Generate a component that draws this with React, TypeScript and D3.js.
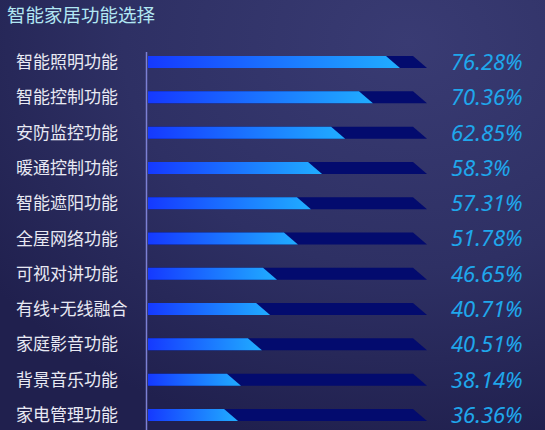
import React, { useEffect, useRef } from 'react';
import * as d3 from 'd3';

const title = '智能家居功能选择';
const categories = [
  '智能照明功能',
  '智能控制功能',
  '安防监控功能',
  '暖通控制功能',
  '智能遮阳功能',
  '全屋网络功能',
  '可视对讲功能',
  '有线+无线融合',
  '家庭影音功能',
  '背景音乐功能',
  '家电管理功能',
];
// label values shown at the right
const values = ['76.28%', '70.36%', '62.85%', '58.3%', '57.31%', '51.78%', '46.65%', '40.71%', '40.51%', '38.14%', '36.36%'];
// bar fill, percent of the track
const fills = [89.8, 79.6, 69.1, 60.4, 56.2, 51.3, 43.4, 40.8, 37.7, 29.8, 28.7];

const W = 545;
const H = 430;

export default function App() {
  const svgRef = useRef<SVGSVGElement>(null);

  useEffect(() => {
    document.body.style.margin = '0';
    if (!svgRef.current) return;
    const svg = d3.select(svgRef.current);
    svg.selectAll('*').remove();
    svg.attr('width', W).attr('height', H);

    const defs = svg.append('defs');
    const bg = defs
      .append('radialGradient')
      .attr('id', 'bg')
      .attr('cx', '75%')
      .attr('cy', '10%')
      .attr('r', '95%');
    bg.append('stop').attr('offset', '0%').attr('stop-color', '#393b73');
    bg.append('stop').attr('offset', '55%').attr('stop-color', '#2e3064');
    bg.append('stop').attr('offset', '100%').attr('stop-color', '#20204e');

    const barGrad = defs
      .append('linearGradient')
      .attr('id', 'barGrad')
      .attr('x1', '0%')
      .attr('x2', '100%')
      .attr('y1', '0%')
      .attr('y2', '0%');
    barGrad.append('stop').attr('offset', '0%').attr('stop-color', '#1539ff');
    barGrad.append('stop').attr('offset', '100%').attr('stop-color', '#20adff');

    svg.append('rect').attr('width', W).attr('height', H).attr('fill', 'url(#bg)');

    svg
      .append('text')
      .attr('x', 7)
      .attr('y', 22)
      .attr('fill', '#b2e7f3')
      .attr('font-family', '"Noto Sans CJK SC", "Noto Sans", sans-serif')
      .attr('font-size', 18.5)
      .text(title);

    const y = d3.scaleBand().domain(categories).range([44.4, 432.6]).padding(0);
    const x = d3.scaleLinear().domain([0, 100]).range([148, 413]);
    const barH = 12;
    const slant = 14;

    const data = categories.map((c, i) => ({ label: c, value: values[i], fill: fills[i] }));
    const cy = (d: { label: string }) => y(d.label)! + y.bandwidth() / 2;

    const shape = (end: number, top: number) => {
      const p = d3.path();
      p.moveTo(x(0), top);
      p.lineTo(end, top);
      p.lineTo(end + slant, top + barH);
      p.lineTo(x(0), top + barH);
      p.closePath();
      return p.toString();
    };

    const rows = svg.selectAll('.row').data(data).enter().append('g').attr('class', 'row');

    rows
      .append('path')
      .attr('d', (d) => shape(x(100), cy(d) - barH / 2))
      .attr('fill', '#030b6e');

    rows
      .append('path')
      .attr('d', (d) => shape(x(d.fill), cy(d) - barH / 2))
      .attr('fill', 'url(#barGrad)');

    rows
      .append('text')
      .attr('x', 16)
      .attr('y', (d) => cy(d))
      .attr('dy', '0.36em')
      .attr('fill', '#e8e9f3')
      .attr('font-family', '"Noto Sans CJK SC", sans-serif')
      .attr('font-size', 17)
      .text((d) => d.label);

    rows
      .append('text')
      .attr('x', 451)
      .attr('y', (d) => cy(d))
      .attr('dy', '0.36em')
      .attr('fill', '#1fa7ec')
      .attr('font-family', '"Noto Sans", "Open Sans", sans-serif')
      .attr('font-style', 'italic')
      .attr('font-size', 22)
      .text((d) => d.value);

    svg
      .append('line')
      .attr('x1', 146.5)
      .attr('x2', 146.5)
      .attr('y1', 52)
      .attr('y2', H)
      .attr('stroke', '#7c80d4')
      .attr('stroke-width', 1.5);
  }, []);

  return <svg ref={svgRef} style={{ display: 'block' }} />;
}
